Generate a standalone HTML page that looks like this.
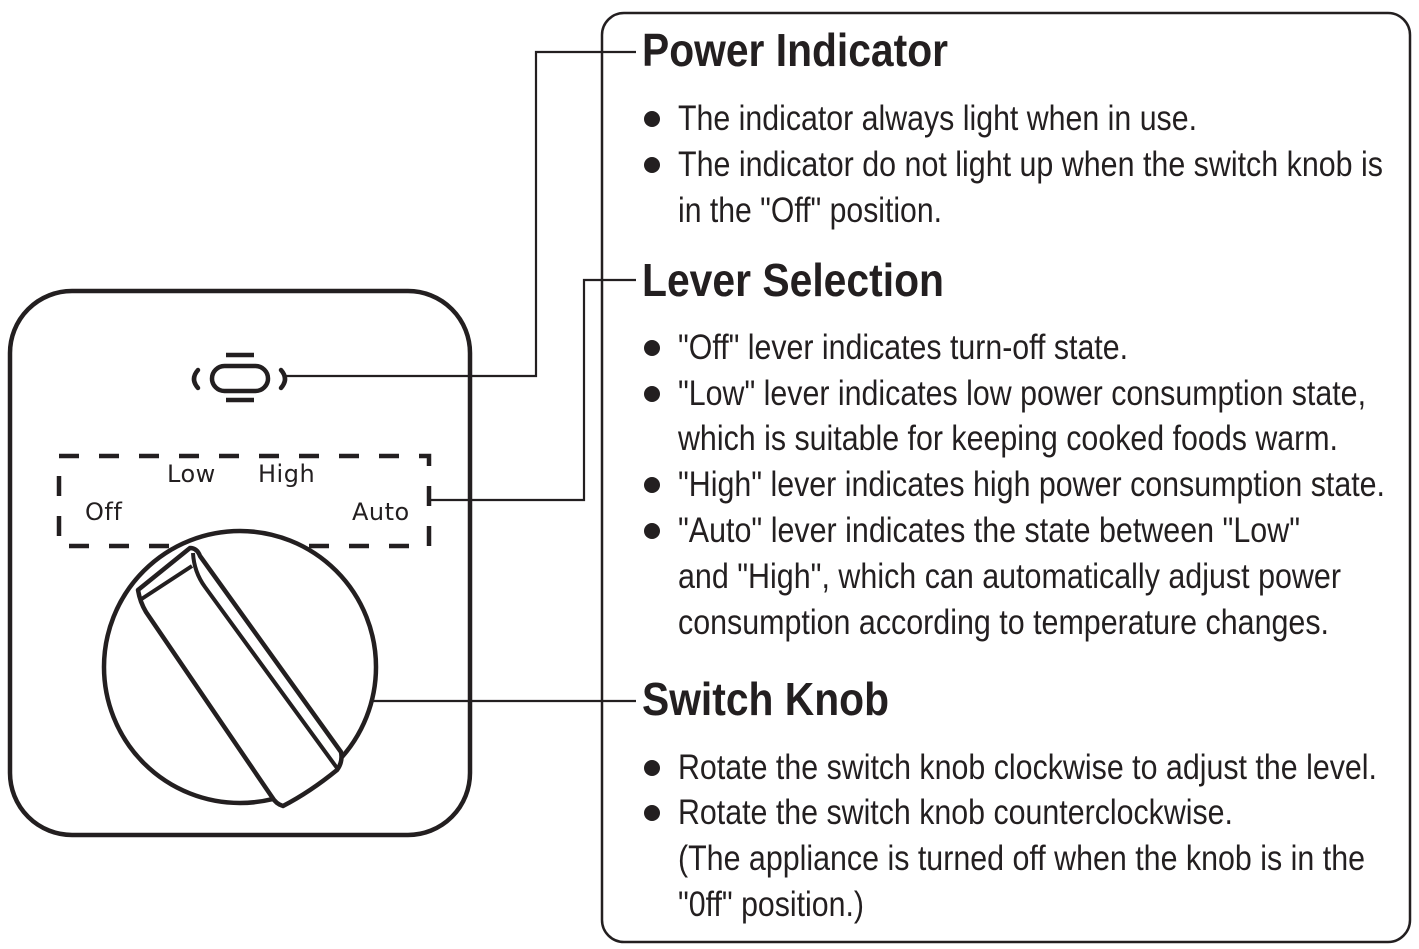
<!DOCTYPE html>
<html><head><meta charset="utf-8"><style>
html,body{margin:0;padding:0;background:#fff;width:1419px;height:949px;overflow:hidden}
svg{display:block}
.h{font-family:"Liberation Sans Narrow","Liberation Sans",sans-serif;font-weight:bold;font-size:46px;fill:#231f20}
.b{font-family:"Liberation Sans Narrow","Liberation Sans",sans-serif;font-size:35px;fill:#231f20}
.l{font-family:"DejaVu Sans","Liberation Sans",sans-serif;font-size:24px;letter-spacing:0.5px;fill:#231f20;font-variant-ligatures:none}
</style></head><body>
<svg width="1419" height="949" viewBox="0 0 1419 949" xmlns="http://www.w3.org/2000/svg">
<g fill="none" stroke="#231f20">
<rect x="602" y="13" width="808" height="929" rx="22" stroke-width="2.5"/>
<rect x="10" y="291" width="460" height="544" rx="62" stroke-width="4.5"/>
<rect x="59" y="456" width="370" height="90" stroke-width="4.5" stroke-dasharray="20 20"/>
<path d="M283 376H536V52H636M430 500H584V280H636M340 701H636" stroke-width="2.2"/>
<path d="M198 370 Q190 379 198 388 M281 370 Q289 379 281 388" stroke-width="4.5" stroke-linecap="round"/>
<rect x="212" y="366" width="56" height="25" rx="12.5" stroke-width="4.5"/>
<path d="M226 355H254M226 400H254" stroke-width="4.5"/>
<circle cx="240" cy="667" r="136" stroke-width="4.5" fill="#fff"/>
<path d="M138 590 L190 548 Q197 548 200 556 L341 752 Q343 762 337 770 Q310 792 283 806 Q276 804 272 797 L146 612 Q140 602 138 590 Z" fill="#fff" stroke-width="4.5" stroke-linejoin="round"/>
<path d="M140 600 L192 566" stroke-width="4"/>
<path d="M193 553 Q194 572 205 587 L337 768" stroke-width="4"/>
</g>
<g class="l">
<text x="167" y="482">Low</text>
<text x="258" y="482">High</text>
<text x="85" y="520">Off</text>
<text x="352" y="520">Auto</text>
</g>
<g class="h">
<text x="642" y="66" textLength="306" lengthAdjust="spacingAndGlyphs">Power Indicator</text>
<text x="642" y="296" textLength="302" lengthAdjust="spacingAndGlyphs">Lever Selection</text>
<text x="642" y="715" textLength="247" lengthAdjust="spacingAndGlyphs">Switch Knob</text>
</g>
<g fill="#231f20">
<circle cx="652" cy="119" r="8"/><circle cx="652" cy="165" r="8"/>
<circle cx="652" cy="348" r="8"/><circle cx="652" cy="394" r="8"/><circle cx="652" cy="485" r="8"/><circle cx="652" cy="531" r="8"/>
<circle cx="652" cy="768" r="8"/><circle cx="652" cy="813" r="8"/>
</g>
<g class="b">
<text x="678" y="130" textLength="519" lengthAdjust="spacingAndGlyphs">The indicator always light when in use.</text>
<text x="678" y="176" textLength="705" lengthAdjust="spacingAndGlyphs">The indicator do not light up when the switch knob is</text>
<text x="678" y="222" textLength="264" lengthAdjust="spacingAndGlyphs">in the "Off" position.</text>
<text x="678" y="359" textLength="450" lengthAdjust="spacingAndGlyphs">"Off" lever indicates turn-off state.</text>
<text x="678" y="405" textLength="688" lengthAdjust="spacingAndGlyphs">"Low" lever indicates low power consumption state,</text>
<text x="678" y="450" textLength="660" lengthAdjust="spacingAndGlyphs">which is suitable for keeping cooked foods warm.</text>
<text x="678" y="496" textLength="707" lengthAdjust="spacingAndGlyphs">"High" lever indicates high power consumption state.</text>
<text x="678" y="542" textLength="622" lengthAdjust="spacingAndGlyphs">"Auto" lever indicates the state between "Low"</text>
<text x="678" y="588" textLength="663" lengthAdjust="spacingAndGlyphs">and "High", which can automatically adjust power</text>
<text x="678" y="634" textLength="651" lengthAdjust="spacingAndGlyphs">consumption according to temperature changes.</text>
<text x="678" y="779" textLength="699" lengthAdjust="spacingAndGlyphs">Rotate the switch knob clockwise to adjust the level.</text>
<text x="678" y="824" textLength="555" lengthAdjust="spacingAndGlyphs">Rotate the switch knob counterclockwise.</text>
<text x="678" y="870" textLength="687" lengthAdjust="spacingAndGlyphs">(The appliance is turned off when the knob is in the</text>
<text x="678" y="916" textLength="186" lengthAdjust="spacingAndGlyphs">"0ff" position.)</text>
</g>
</svg>
</body></html>
